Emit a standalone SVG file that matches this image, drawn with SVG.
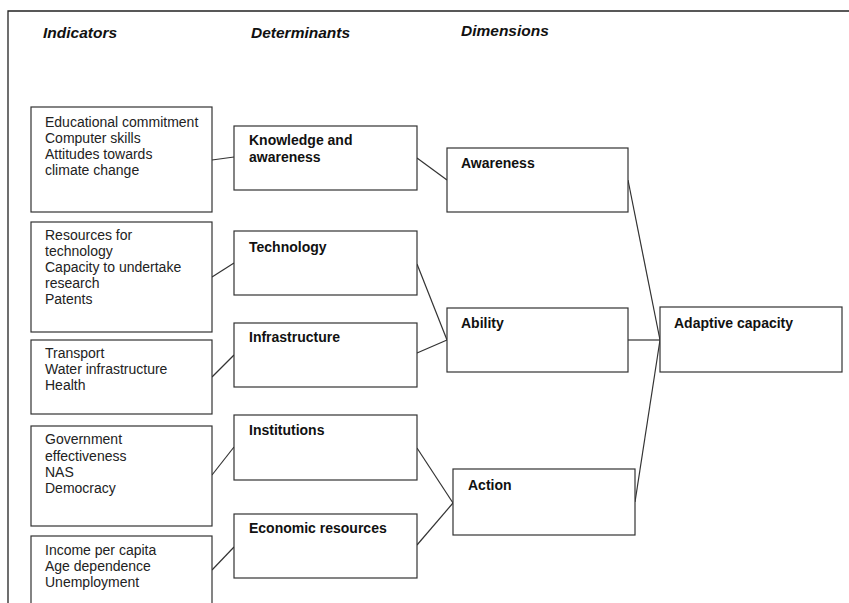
<svg xmlns="http://www.w3.org/2000/svg" width="849" height="603" viewBox="0 0 849 603">
<style>
.box{fill:#fff;stroke:#333;stroke-width:1.2}
.hdr{font-family:"Liberation Sans",Arial,sans-serif;font-weight:bold;font-style:italic;font-size:15.5px;fill:#111}
.txt{font-family:"Liberation Sans",Arial,sans-serif;font-size:14px;fill:#222}
.lbl{font-family:"Liberation Sans",Arial,sans-serif;font-weight:bold;font-size:14px;fill:#111}
.con{stroke:#333;stroke-width:1.2;fill:none}
</style>
<rect width="849" height="603" fill="#fff"/>
<g id="frame">
<path d="M8,603 V11 H849" fill="none" stroke="#222" stroke-width="1.3"/>
</g>
<g id="headers">
<text class="hdr" x="43" y="38">Indicators</text>
<text class="hdr" x="251" y="38">Determinants</text>
<text class="hdr" x="461" y="36">Dimensions</text>
</g>
<g id="connectors">
<line class="con" x1="212" y1="160" x2="234" y2="157"/>
<line class="con" x1="212" y1="277" x2="234" y2="263"/>
<line class="con" x1="212" y1="377" x2="234" y2="355"/>
<line class="con" x1="212" y1="475" x2="234" y2="447"/>
<line class="con" x1="212" y1="570" x2="234" y2="547"/>
<line class="con" x1="417" y1="158" x2="447" y2="180"/>
<line class="con" x1="417" y1="264" x2="447" y2="340"/>
<line class="con" x1="417" y1="353" x2="447" y2="340"/>
<line class="con" x1="417" y1="448" x2="453" y2="503"/>
<line class="con" x1="417" y1="545" x2="453" y2="503"/>
<line class="con" x1="628" y1="180" x2="660" y2="340"/>
<line class="con" x1="628" y1="340" x2="660" y2="340"/>
<line class="con" x1="635" y1="502" x2="660" y2="340"/>
</g>
<g id="ind1">
<rect class="box" x="31" y="107" width="181" height="105"/>
<text class="txt" x="45" y="127">Educational commitment</text>
<text class="txt" x="45" y="143">Computer skills</text>
<text class="txt" x="45" y="159">Attitudes towards</text>
<text class="txt" x="45" y="175">climate change</text>
</g>
<g id="ind2">
<rect class="box" x="31" y="222" width="181" height="110"/>
<text class="txt" x="45" y="240">Resources for</text>
<text class="txt" x="45" y="256">technology</text>
<text class="txt" x="45" y="272">Capacity to undertake</text>
<text class="txt" x="45" y="288">research</text>
<text class="txt" x="45" y="304">Patents</text>
</g>
<g id="ind3">
<rect class="box" x="31" y="340" width="181" height="74"/>
<text class="txt" x="45" y="358">Transport</text>
<text class="txt" x="45" y="374">Water infrastructure</text>
<text class="txt" x="45" y="390">Health</text>
</g>
<g id="ind4">
<rect class="box" x="31" y="426" width="181" height="100"/>
<text class="txt" x="45" y="444">Government</text>
<text class="txt" x="45" y="461">effectiveness</text>
<text class="txt" x="45" y="477">NAS</text>
<text class="txt" x="45" y="493">Democracy</text>
</g>
<g id="ind5">
<rect class="box" x="31" y="536" width="181" height="80"/>
<text class="txt" x="45" y="555">Income per capita</text>
<text class="txt" x="45" y="571">Age dependence</text>
<text class="txt" x="45" y="587">Unemployment</text>
</g>
<g id="knowledge">
<rect class="box" x="234" y="126" width="183" height="64"/>
<text class="lbl" x="249" y="145">Knowledge and</text>
<text class="lbl" x="249" y="162">awareness</text>
</g>
<g id="technology">
<rect class="box" x="234" y="231" width="183" height="64"/>
<text class="lbl" x="249" y="252">Technology</text>
</g>
<g id="infrastructure">
<rect class="box" x="234" y="323" width="183" height="64"/>
<text class="lbl" x="249" y="342">Infrastructure</text>
</g>
<g id="institutions">
<rect class="box" x="234" y="415" width="183" height="65"/>
<text class="lbl" x="249" y="435">Institutions</text>
</g>
<g id="economic">
<rect class="box" x="234" y="514" width="183" height="64"/>
<text class="lbl" x="249" y="533">Economic resources</text>
</g>
<g id="awareness">
<rect class="box" x="447" y="148" width="181" height="64"/>
<text class="lbl" x="461" y="168">Awareness</text>
</g>
<g id="ability">
<rect class="box" x="447" y="308" width="181" height="64"/>
<text class="lbl" x="461" y="328">Ability</text>
</g>
<g id="action">
<rect class="box" x="453" y="469" width="182" height="66"/>
<text class="lbl" x="468" y="490">Action</text>
</g>
<g id="adaptive">
<rect class="box" x="660" y="307" width="182" height="65"/>
<text class="lbl" x="674" y="328">Adaptive capacity</text>
</g>
</svg>
